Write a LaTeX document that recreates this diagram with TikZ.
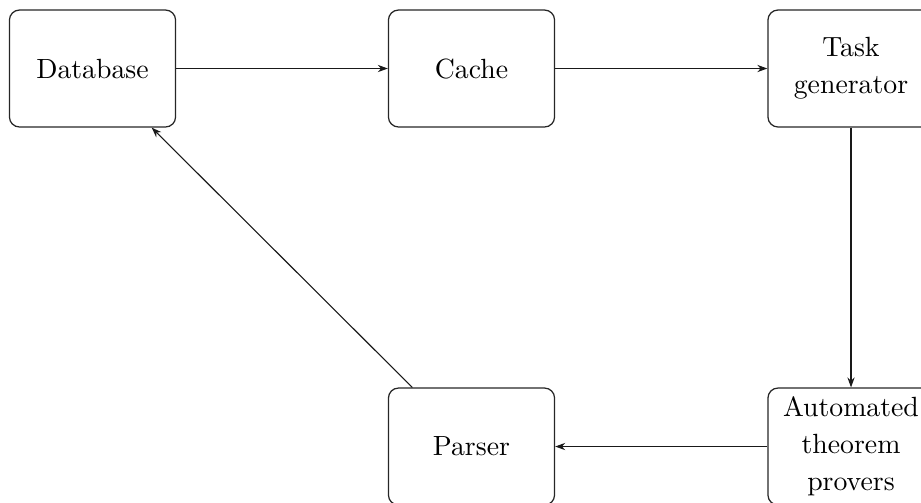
\documentclass[tikz,border=0pt]{standalone}
\usetikzlibrary{arrows.meta}
\begin{document}
\begin{tikzpicture}[x=0.36pt,y=-0.36pt,
  box/.style={draw=black!85,line width=0.45pt,rounded corners=3.6pt,minimum width=59.8pt,minimum height=42.1pt,align=center,inner sep=0pt,font=\fontsize{10pt}{13.3pt}\selectfont},
  conn/.style={draw=black!90,line width=0.4pt,-{Stealth[length=3.6pt,width=2.6pt]}}]
\useasboundingbox (0,0) rectangle (921,502);
\clip (0,0) rectangle (921,502);
\node[box] (db) at (92.5,68.5) {Database};
\node[box] (cache) at (471.5,68.5) {Cache};
\node[box] (task) at (851,68.5) {Task\\generator};
\node[box] (parser) at (471.5,446.5) {Parser};
\node[box] (atp) at (851,446.5) {Automated\\theorem\\provers};
\draw[conn] (db) -- (cache);
\draw[conn] (cache) -- (task);
\draw[conn] (task) -- (atp);
\draw[conn] (atp) -- (parser);
\draw[conn] (parser) -- (db);
\end{tikzpicture}
\end{document}
